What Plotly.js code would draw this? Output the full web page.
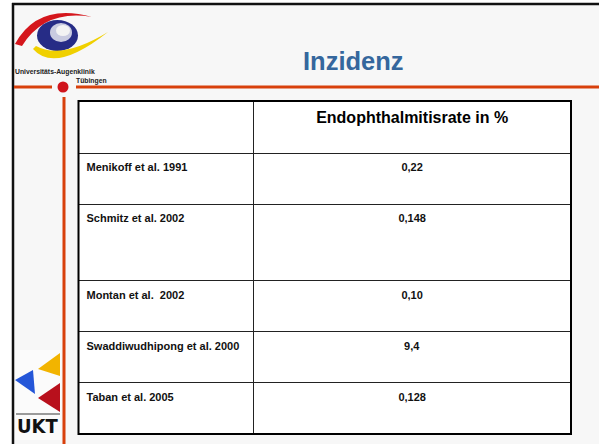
<!DOCTYPE html>
<html>
<head>
<meta charset="utf-8">
<script src="https://cdn.plot.ly/plotly-3.0.1.min.js"></script>
<style>html,body{margin:0;padding:0;background:#fff;}#chart{width:599px;height:444px;}</style>
</head>
<body>
<div id="chart"></div>
<script>
// ---- data ----
var slideTitle = "Inzidenz";
var columnHeader = "Endophthalmitisrate in %";
var studies = ["Menikoff et al. 1991", "Schmitz et al. 2002", "Montan et al.  2002", "Swaddiwudhipong et al. 2000", "Taban et al. 2005"];
var rates = ["0,22", "0,148", "0,10", "9,4", "0,128"];

// ---- layout helpers (pixel -> paper) ----
var W = 599, H = 444;
function px(x){ return x / W; }
function py(y){ return 1 - y / H; }
function P(x, y){ return px(x).toFixed(5) + "," + py(y).toFixed(5); }

var FONT = "Arial, 'Liberation Sans', sans-serif";

// Schmitz row is taller in the original slide: pad it with blank lines
var tallPad = "<br> <br> <br><span style='font-size:38px;color:#ffffff'>.</span>";
var studyCells = studies.map(function(s, i){ return "<b>" + s + "</b>" + (i === 1 ? tallPad : ""); });
var rateCells = rates.map(function(r){ return "<b>" + r + "</b>"; });

var trace = {
  type: "table",
  domain: {x: [px(78.5), px(571)], y: [py(434), py(101)]},
  columnwidth: [175.5, 317],
  header: {
    values: ["", "<b>" + columnHeader + "</b>"],
    align: ["left", "center"],
    height: 52,
    fill: {color: "#ffffff"},
    line: {color: "#222", width: 1},
    font: {family: FONT, size: 16, color: "#000"}
  },
  cells: {
    values: [studyCells, rateCells],
    align: ["left", "center"],
    height: 51,
    fill: {color: "#ffffff"},
    line: {color: "#222", width: 1},
    font: {family: FONT, size: 11, color: "#111"}
  }
};

var shapes = [];
// slide background and frame
shapes.push({type: "rect", xref: "paper", yref: "paper", x0: px(12), x1: px(600), y0: py(445), y1: py(3), fillcolor: "#f7f7f7", line: {width: 0}, layer: "below"});
shapes.push({type: "line", xref: "paper", yref: "paper", x0: px(12), x1: px(600), y0: py(4), y1: py(4), line: {color: "#111", width: 2.5}, layer: "below"});
shapes.push({type: "line", xref: "paper", yref: "paper", x0: px(13), x1: px(13), y0: py(3), y1: py(445), line: {color: "#111", width: 2.5}, layer: "below"});
// orange rules
shapes.push({type: "line", xref: "paper", yref: "paper", x0: px(14), x1: px(52), y0: py(87), y1: py(87), line: {color: "#d8400c", width: 3}, layer: "below"});
shapes.push({type: "line", xref: "paper", yref: "paper", x0: px(76), x1: px(600), y0: py(87), y1: py(87), line: {color: "#d8400c", width: 3}, layer: "below"});
shapes.push({type: "line", xref: "paper", yref: "paper", x0: px(64), x1: px(64), y0: py(97), y1: py(445), line: {color: "#d8400c", width: 3}, layer: "below"});
shapes.push({type: "circle", xref: "paper", yref: "paper", x0: px(57.5), x1: px(68.5), y0: py(92.5), y1: py(81.5), fillcolor: "#d0141c", line: {width: 0}, layer: "below"});
// eye logo
shapes.push({type: "path", xref: "paper", yref: "paper", path: "M" + P(15, 44) + " Q" + P(38, 2) + " " + P(92, 17) + " Q" + P(45, 9) + " " + P(22, 46) + " Z", fillcolor: "#d5161c", line: {width: 0}, layer: "below"});
shapes.push({type: "circle", xref: "paper", yref: "paper", x0: px(37), x1: px(78), y0: py(51), y1: py(20), fillcolor: "#262c86", line: {width: 0}, layer: "below"});
shapes.push({type: "circle", xref: "paper", yref: "paper", x0: px(50), x1: px(72), y0: py(42), y1: py(23), fillcolor: "#c9cbe0", line: {width: 0}, layer: "below"});
shapes.push({type: "circle", xref: "paper", yref: "paper", x0: px(56), x1: px(70), y0: py(36), y1: py(25), fillcolor: "#f3f3f3", line: {width: 0}, layer: "below"});
shapes.push({type: "path", xref: "paper", yref: "paper", path: "M" + P(33, 49) + " Q" + P(55, 74) + " " + P(108, 32) + " Q" + P(62, 60) + " " + P(36, 46) + " Z", fillcolor: "#f0d000", line: {width: 0}, layer: "below"});
// UKT logo
shapes.push({type: "rect", xref: "paper", yref: "paper", x0: px(15), x1: px(61), y0: py(440), y1: py(350), fillcolor: "#fbfbfb", line: {width: 0}, layer: "below"});
shapes.push({type: "path", xref: "paper", yref: "paper", path: "M" + P(15, 380) + " L" + P(33, 370) + " L" + P(35, 394) + " Z", fillcolor: "#2456d8", line: {width: 0}, layer: "below"});
shapes.push({type: "path", xref: "paper", yref: "paper", path: "M" + P(38, 369) + " L" + P(60, 353) + " L" + P(60, 376) + " Z", fillcolor: "#f2b400", line: {width: 0}, layer: "below"});
shapes.push({type: "path", xref: "paper", yref: "paper", path: "M" + P(38, 398) + " L" + P(60, 383) + " L" + P(60, 412) + " Z", fillcolor: "#b8101c", line: {width: 0}, layer: "below"});
shapes.push({type: "line", xref: "paper", yref: "paper", x0: px(16), x1: px(60), y0: py(414), y1: py(414), line: {color: "#9a9a9a", width: 2}, layer: "below"});
// table outer frame
shapes.push({type: "rect", xref: "paper", yref: "paper", x0: px(78.5), x1: px(571), y0: py(434), y1: py(101), line: {color: "#000", width: 2}, layer: "above"});

var annotations = [
  {text: "<b>" + slideTitle + "</b>", xref: "paper", yref: "paper", x: px(353.5), y: py(61), xanchor: "center", yanchor: "middle", showarrow: false, font: {family: FONT, size: 25.5, color: "#35679d"}},
  {text: "<b>Universitäts-Augenklinik</b>", xref: "paper", yref: "paper", x: px(13), y: py(72.5), xanchor: "left", yanchor: "middle", showarrow: false, font: {family: FONT, size: 6.8, color: "#222"}},
  {text: "<b>Tübingen</b>", xref: "paper", yref: "paper", x: px(109), y: py(81), xanchor: "right", yanchor: "middle", showarrow: false, font: {family: FONT, size: 6.8, color: "#222"}},
  {text: "<b>UKT</b>", xref: "paper", yref: "paper", x: px(37.5), y: py(426), xanchor: "center", yanchor: "middle", showarrow: false, font: {family: "'DejaVu Sans Condensed', " + FONT, size: 20, color: "#111"}}
];

var layout = {
  width: W, height: H,
  margin: {l: 0, r: 0, t: 0, b: 0},
  paper_bgcolor: "#ffffff",
  showlegend: false,
  shapes: shapes,
  annotations: annotations
};

Plotly.newPlot("chart", [trace], layout, {displayModeBar: false, staticPlot: true});
</script>
</body>
</html>
